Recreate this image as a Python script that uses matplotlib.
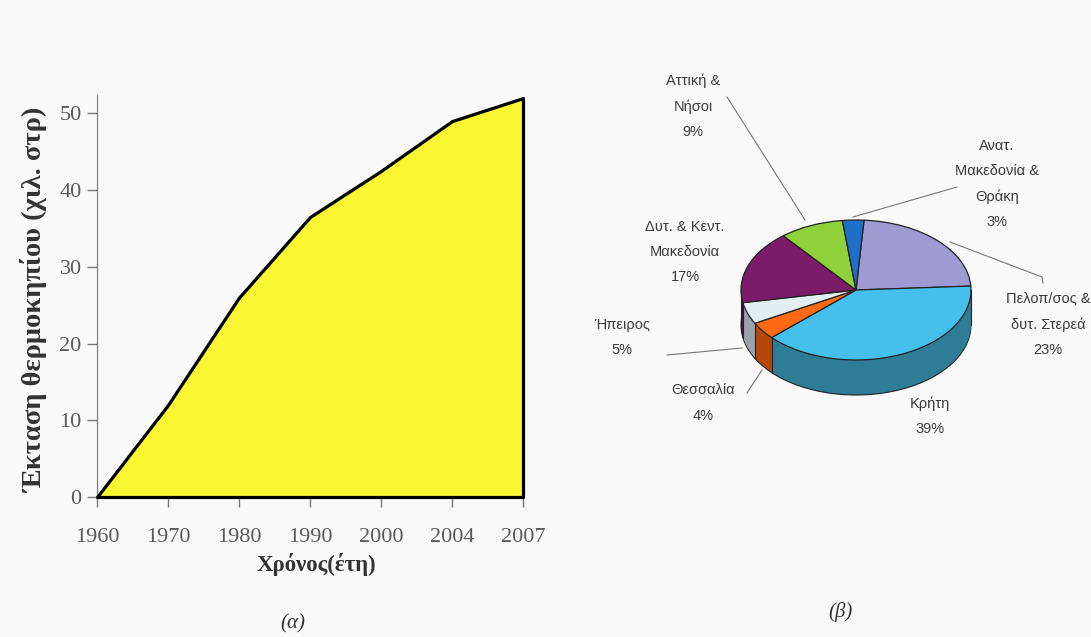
import numpy as np
import matplotlib
matplotlib.use('Agg')
import matplotlib.pyplot as plt
from matplotlib.lines import Line2D

# --- data -------------------------------------------------------------
tick_years = [1960, 1970, 1980, 1990, 2000, 2004, 2007]
area_years = [1960, 1970, 1980, 1990, 2000, 2004, 2007]
area_values = [0, 12, 26, 36.5, 42.5, 49, 52]  # χιλ. στρέμματα
y_ticks = [0, 10, 20, 30, 40, 50]

regions = ['Πελοπ/σος &\nδυτ. Στερεά', 'Κρήτη', 'Θεσσαλία', 'Ήπειρος',
           'Δυτ. & Κεντ.\nΜακεδονία', 'Αττική &\nΝήσοι',
           'Ανατ.\nΜακεδονία &\nΘράκη']
shares = [23, 39, 4, 5, 17, 9, 3]
top_colors = ['#9f9ad2', '#45c0ec', '#ff6a13', '#e2eef2', '#7d1b6b', '#8fd13a', '#1f6fc8']
side_colors = ['#5f5a8c', '#2c7d95', '#b3470c', '#9aa3a8', '#4f0f44', '#5b8a22', '#13457f']

W, H = 1091, 637
fig = plt.figure(figsize=(W / 100, H / 100), dpi=100)
fig.patch.set_facecolor('#f9f9f9')


def fx(px):
    return px / W


def fy(py):
    return 1 - py / H


serif = ['Liberation Serif', 'DejaVu Serif']
sans = ['Liberation Sans', 'DejaVu Sans']

# --- (α) area chart ---------------------------------------------------
ax1 = fig.add_axes([fx(97), fy(497), fx(523) - fx(97), fy(95) - fy(497)])
ax1.set_facecolor('none')
tick_pos = np.arange(len(tick_years))
xpos = np.interp(area_years, tick_years, tick_pos)
ax1.fill_between(xpos, area_values, 0, facecolor='#faf632', edgecolor='black',
                 linewidth=2.3, clip_on=False, zorder=3)
ax1.set_xlim(0, len(tick_years) - 1)
ax1.set_ylim(0, 52.4)
ax1.set_xticks(tick_pos)
ax1.set_xticklabels([str(y) for y in tick_years])
ax1.set_yticks(y_ticks)
for lab in ax1.get_xticklabels() + ax1.get_yticklabels():
    lab.set_family(serif)
    lab.set_fontsize(16)
    lab.set_color('#5a5a5a')
ax1.tick_params(axis='both', length=7, width=1, color='#777777', direction='out')
ax1.tick_params(axis='x', pad=15)
ax1.tick_params(axis='y', pad=4)
for side in ['top', 'right']:
    ax1.spines[side].set_visible(False)
ax1.spines['left'].set_color('#777777')
ax1.spines['bottom'].set_color('#777777')
fig.text(fx(35), fy(300), 'Έκταση θερμοκηπίου (χιλ. στρ)', family=serif, fontsize=20.5,
         fontweight='bold', color='#333333', rotation=90, ha='center', va='center')
fig.text(fx(316), fy(564), 'Χρόνος(έτη)', family=serif, fontsize=16.5,
         fontweight='bold', color='#333333', ha='center', va='center')
fig.text(fx(293), fy(624), '(α)', family=serif, fontsize=15, style='italic',
         color='#333333', ha='center', va='center')

# --- (β) 3D pie -------------------------------------------------------
rx, ry, depth_px = 115, 70, 35
cx, cy = 856, 290
xr = (-1.6, 1.6)
yr = (-1.8, 1.4)
ax2 = fig.add_axes([fx(cx + xr[0] * rx), fy(cy - yr[0] * ry),
                    (xr[1] - xr[0]) * rx / W, (yr[1] - yr[0]) * ry / H])
depth = depth_px / ry
start = 86

for i, k in enumerate(np.linspace(depth, 0, 30, endpoint=False)):
    ax2.pie(shares, colors=side_colors, startangle=start, counterclock=False,
            center=(0, -k), radius=1,
            wedgeprops=dict(linewidth=0.8 if i == 0 else 0,
                            edgecolor='#222222'))

# seams on the visible side
bounds = start - 360 * np.cumsum([0] + shares) / sum(shares)
for th in list(bounds) + [0, 180]:
    t = np.deg2rad(th)
    if np.sin(t) <= 1e-9:
        ax2.plot([np.cos(t), np.cos(t)], [np.sin(t), np.sin(t) - depth],
                 color='#222222', lw=0.8)

ax2.pie(shares, colors=top_colors, startangle=start, counterclock=False,
        radius=1, wedgeprops=dict(linewidth=0.9, edgecolor='#222222'))
ax2.set_aspect('auto')
ax2.set_xlim(*xr)
ax2.set_ylim(*yr)
ax2.axis('off')

# labels (pixel positions from the picture)
label_pos = [(1048, 324), (930, 416), (703, 403), (622, 337),
             (685, 252), (693, 106), (997, 184)]
for name, val, (px, py) in zip(regions, shares, label_pos):
    fig.text(fx(px), fy(py), f'{name}\n{val}%', family=sans, fontsize=10.5,
             color='#3a3a3a', ha='center', va='center', linespacing=2.0)

leaders = [
    [(727, 97), (805, 220)],
    [(957, 187), (853, 217)],
    [(950, 242), (1042, 277), (1043, 283)],
    [(667, 355), (742, 348)],
    [(747, 393), (762, 370)],
]
for pts in leaders:
    xs = [fx(p[0]) for p in pts]
    ys = [fy(p[1]) for p in pts]
    fig.add_artist(Line2D(xs, ys, transform=fig.transFigure, color='#777777', lw=0.8))

fig.text(fx(840), fy(612), '(β)', family=serif, fontsize=15, style='italic',
         color='#333333', ha='center', va='center')

fig.savefig('out.png', dpi=100, facecolor=fig.get_facecolor())
